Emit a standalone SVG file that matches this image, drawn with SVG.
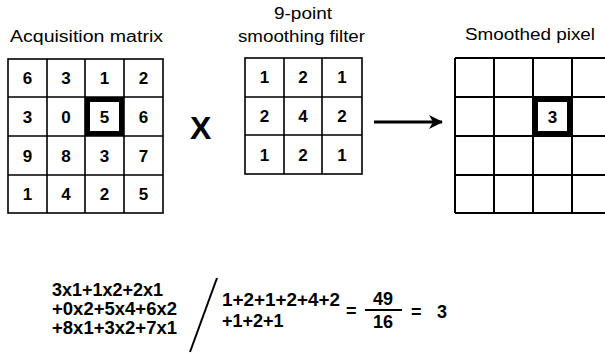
<svg xmlns="http://www.w3.org/2000/svg" width="605" height="356" viewBox="0 0 605 356">
<style>
.t{font-family:"Liberation Sans",Arial,sans-serif;fill:#000}
.title{font-size:16px}
.n{font-size:17px;font-weight:bold;text-anchor:middle}
.f{font-size:18px;font-weight:bold}
.g{stroke:#000;stroke-width:1.6;fill:none}
.hl{stroke:#000;stroke-width:5;fill:#fff}
</style>
<defs>
<marker id="ah" markerWidth="14" markerHeight="14" refX="13" refY="7" orient="auto" markerUnits="userSpaceOnUse">
<path d="M0,0 L14,7 L0,14 L4,7 Z" fill="#000"/>
</marker>
</defs>
<rect width="605" height="356" fill="#fff"/>

<g id="acquisition-matrix">
<text class="t title" x="10" y="42" textLength="153" lengthAdjust="spacingAndGlyphs">Acquisition matrix</text>
<rect class="g" x="8" y="59" width="155" height="154"/>
<path class="g" d="M47,59V213M85,59V213M124,59V213M8,97H163M8,136H163M8,175H163"/>
<rect class="hl" x="87.5" y="99.5" width="34" height="34"/>
<g class="t n">
<text x="27.5" y="84">6</text><text x="66" y="84">3</text><text x="104.5" y="84">1</text><text x="143.5" y="84">2</text>
<text x="27.5" y="122.5">3</text><text x="66" y="122.5">0</text><text x="104.5" y="122.5">5</text><text x="143.5" y="122.5">6</text>
<text x="27.5" y="161.5">9</text><text x="66" y="161.5">8</text><text x="104.5" y="161.5">3</text><text x="143.5" y="161.5">7</text>
<text x="27.5" y="200">1</text><text x="66" y="200">4</text><text x="104.5" y="200">2</text><text x="143.5" y="200">5</text>
</g>
</g>

<g id="times">
<text class="t" x="190" y="139" style="font-size:32px;font-weight:bold">X</text>
</g>

<g id="smoothing-filter">
<text class="t title" x="274" y="19" textLength="58" lengthAdjust="spacingAndGlyphs">9-point</text>
<text class="t title" x="238" y="42" textLength="127" lengthAdjust="spacingAndGlyphs">smoothing filter</text>
<rect class="g" x="245" y="58" width="117" height="116"/>
<path class="g" d="M284,58V174M322,58V174M245,97H362M245,135H362"/>
<g class="t n">
<text x="264.5" y="83">1</text><text x="303" y="83">2</text><text x="342" y="83">1</text>
<text x="264.5" y="122">2</text><text x="303" y="122">4</text><text x="342" y="122">2</text>
<text x="264.5" y="160.5">1</text><text x="303" y="160.5">2</text><text x="342" y="160.5">1</text>
</g>
</g>

<g id="smoothed-pixel">
<text class="t title" x="465" y="40" textLength="130" lengthAdjust="spacingAndGlyphs">Smoothed pixel</text>
<path class="g" style="stroke-width:2" d="M455,58V213M494,58V213M533,58V213M572,58V213M455,58H605M455,97H605M455,136H605M455,175H605M455,213H605"/>
<rect class="hl" x="535.5" y="99.5" width="34" height="34"/>
<text class="t n" x="552.5" y="122.5">3</text>
</g>

<g id="connectors">
<line x1="374" y1="122" x2="442" y2="122" stroke="#000" stroke-width="3" marker-end="url(#ah)"/>
</g>

<g id="formula">
<text class="t f" x="52" y="296" textLength="111" lengthAdjust="spacingAndGlyphs">3x1+1x2+2x1</text>
<text class="t f" x="52" y="315" textLength="125" lengthAdjust="spacingAndGlyphs">+0x2+5x4+6x2</text>
<text class="t f" x="52" y="334" textLength="125" lengthAdjust="spacingAndGlyphs">+8x1+3x2+7x1</text>
<line x1="217" y1="278" x2="190" y2="352" stroke="#000" stroke-width="2"/>
<text class="t f" x="222" y="306" textLength="118" lengthAdjust="spacingAndGlyphs">1+2+1+2+4+2</text>
<text class="t f" x="222" y="327">+1+2+1</text>
<text class="t f" x="346" y="317">=</text>
<text class="t f" x="383" y="305" text-anchor="middle">49</text>
<line x1="365" y1="310" x2="402" y2="310" stroke="#000" stroke-width="2"/>
<text class="t f" x="383" y="328" text-anchor="middle">16</text>
<text class="t f" x="411" y="318">=</text>
<text class="t f" x="437" y="318">3</text>
</g>
</svg>
